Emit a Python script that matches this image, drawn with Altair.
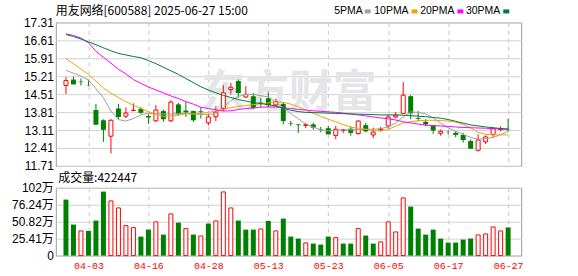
import json
import altair as alt
import pandas as pd

# ---------------- data ----------------
dates = ["03-31", "04-01", "04-02", "04-03", "04-07", "04-08", "04-09", "04-10", "04-11",
         "04-14", "04-15", "04-16", "04-17", "04-18", "04-21", "04-22", "04-23", "04-24",
         "04-25", "04-28", "04-29", "04-30", "05-06", "05-07", "05-08", "05-09", "05-12",
         "05-13", "05-14", "05-15", "05-16", "05-19", "05-20", "05-21", "05-22", "05-23",
         "05-26", "05-27", "05-28", "05-29", "05-30", "06-03", "06-04", "06-05", "06-06",
         "06-09", "06-10", "06-11", "06-12", "06-13", "06-16", "06-17", "06-18", "06-19",
         "06-20", "06-23", "06-24", "06-25", "06-26", "06-27"]

opens = [14.85, 15.08, 15.00, 14.84, 13.89, 13.49, 12.87, 13.95, 13.65, 13.87,
         13.94, 13.66, 13.47, 13.85, 13.47, 14.11, 13.87, 13.85, 13.84, 13.39,
         13.63, 13.95, 14.69, 15.02, 14.40, 14.43, 14.19, 14.35, 14.09, 14.13,
         13.38, 13.33, 13.29, 13.33, 13.15, 13.18, 12.90, 13.09, 13.16, 12.97,
         13.30, 12.92, 13.13, 13.27, 13.62, 13.76, 14.43, 13.57, 13.43, 13.30,
         12.98, 13.04, 13.00, 12.92, 12.68, 12.32, 12.65, 12.94, 13.13, 13.14]
highs = [15.17, 15.20, 15.12, 15.07, 14.13, 13.53, 13.53, 14.13, 13.99, 14.15,
         14.00, 13.72, 14.08, 13.91, 14.27, 14.17, 14.20, 13.87, 13.99, 13.74,
         14.04, 14.86, 14.95, 15.08, 14.82, 14.56, 14.37, 14.60, 14.33, 14.20,
         13.47, 13.34, 13.39, 13.39, 13.23, 13.27, 13.27, 13.16, 13.25, 13.49,
         13.39, 13.20, 13.23, 13.71, 13.81, 14.98, 14.47, 13.85, 13.53, 13.30,
         13.13, 13.09, 13.06, 13.00, 12.74, 12.94, 12.90, 13.20, 13.26, 13.55]
lows = [14.52, 14.89, 14.85, 14.82, 13.30, 12.65, 12.20, 13.53, 13.58, 13.86,
        13.74, 13.35, 13.43, 13.43, 13.43, 13.66, 13.62, 13.43, 13.56, 13.29,
        13.46, 13.85, 14.50, 14.37, 14.37, 13.93, 14.00, 14.00, 14.02, 13.33,
        13.27, 13.00, 13.18, 13.12, 13.02, 12.94, 12.75, 13.00, 12.89, 12.93,
        13.02, 12.79, 13.04, 13.17, 13.56, 13.76, 13.53, 13.46, 13.25, 12.96,
        12.89, 12.94, 12.83, 12.62, 12.38, 12.27, 12.57, 12.83, 13.06, 13.04]
closes = [15.04, 14.89, 14.98, 14.83, 13.32, 13.12, 13.49, 13.62, 13.77, 13.88,
          13.78, 13.60, 13.89, 13.53, 14.20, 13.72, 13.80, 13.49, 13.81, 13.62,
          13.81, 14.56, 14.78, 14.55, 14.50, 13.98, 14.17, 14.08, 14.22, 13.46,
          13.36, 13.30, 13.32, 13.20, 13.13, 12.94, 13.14, 13.11, 13.00, 13.46,
          13.06, 13.03, 13.15, 13.62, 13.69, 14.47, 13.76, 13.54, 13.33, 13.09,
          13.06, 13.03, 12.92, 12.72, 12.38, 12.72, 12.84, 13.16, 13.17, 13.13]

ma5 = [15.44, 15.33, 15.21, 15.06, 14.72, 14.37, 13.85, 13.52, 13.46, 13.56,
       13.70, 13.76, 13.75, 13.73, 13.73, 13.75, 13.76, 13.74, 13.72, 13.72,
       13.74, 14.00, 14.25, 14.42, 14.50, 14.50, 14.45, 14.40, 14.20, 13.98,
       13.75, 13.55, 13.35, 13.22, 13.12, 13.08, 13.10, 13.12, 13.12, 13.13,
       13.14, 13.14, 13.16, 13.23, 13.39, 13.62, 13.82, 13.80, 13.74, 13.58,
       13.38, 13.20, 13.06, 12.94, 12.82, 12.75, 12.78, 12.82, 12.93, 13.05]
ma10 = [15.90, 15.70, 15.49, 15.28, 15.02, 14.75, 14.55, 14.38, 14.22, 14.08,
        13.95, 13.82, 13.72, 13.64, 13.66, 13.70, 13.74, 13.74, 13.76, 13.80,
        13.85, 13.92, 13.98, 14.03, 14.07, 14.10, 14.13, 14.17, 14.21, 14.19,
        14.12, 14.02, 13.89, 13.76, 13.64, 13.53, 13.43, 13.32, 13.22, 13.18,
        13.14, 13.10, 13.08, 13.13, 13.27, 13.38, 13.44, 13.47, 13.49, 13.49,
        13.48, 13.46, 13.42, 13.33, 13.20, 13.02, 12.94, 12.92, 12.92, 12.92]
ma20 = [16.86, 16.80, 16.70, 16.52, 16.18, 15.95, 15.72, 15.48, 15.30, 15.08,
        14.93, 14.79, 14.67, 14.56, 14.44, 14.34, 14.22, 14.12, 14.00, 13.95,
        13.90, 13.85, 13.86, 13.91, 13.95, 13.97, 14.00, 14.01, 14.01, 13.98,
        13.95, 13.91, 13.89, 13.86, 13.84, 13.82, 13.80, 13.77, 13.73, 13.70,
        13.66, 13.62, 13.58, 13.55, 13.50, 13.43, 13.39, 13.34, 13.30, 13.28,
        13.27, 13.25, 13.23, 13.21, 13.20, 13.19, 13.18, 13.16, 13.15, 13.14]
ma30 = [16.84, 16.76, 16.66, 16.55, 16.44, 16.32, 16.20, 16.10, 16.04, 15.98,
        15.93, 15.82, 15.70, 15.56, 15.42, 15.28, 15.12, 14.96, 14.80, 14.67,
        14.56, 14.46, 14.38, 14.30, 14.24, 14.18, 14.14, 14.10, 14.05, 13.96,
        13.88, 13.83, 13.80, 13.79, 13.78, 13.77, 13.76, 13.75, 13.74, 13.73,
        13.72, 13.71, 13.70, 13.70, 13.70, 13.69, 13.67, 13.65, 13.63, 13.60,
        13.57, 13.52, 13.45, 13.38, 13.31, 13.27, 13.23, 13.20, 13.17, 13.15]

# volume in 万 (10k shares)
volumes = [84, 46.5, 37, 37, 52.5, 96, 82, 71.5, 45, 42,
           28.5, 39, 50.5, 31.5, 62.5, 49.5, 40.5, 31.5, 29.5, 48,
           52, 95.5, 71.5, 52.5, 39, 39, 40, 52, 37, 55.5,
           28.5, 25.5, 19, 18, 16.5, 28.5, 27, 18, 18, 40.5,
           30, 18, 20.5, 50.5, 35.5, 86.5, 73.5, 40.5, 31.5, 39,
           25.5, 19.5, 19.5, 24, 25.5, 31, 32.5, 43, 37, 42.2447]
# volume bar colour as seen: r = red hollow, g = green filled
vol_dir = list("ggrgggrrrrggrgrgrgrgrrrgggrgrgggrgggrggrggrrrrggggggggg" "rrrrg")

price_ticks = [11.71, 12.41, 13.11, 13.81, 14.51, 15.21, 15.91, 16.61, 17.31]
vol_ticks = [0, 25.41, 50.82, 76.24, 101.65]
vol_tick_labels = ["0", "25.41万", "50.82万", "76.24万", "102万"]
date_ticks = ["04-03", "04-16", "04-28", "05-13", "05-23", "06-05", "06-17", "06-27"]

title_text = "用友网络[600588] 2025-06-27 15:00"
vol_title = "成交量:422447"
legend_names = ["5PMA", "10PMA", "20PMA", "30PMA"]
watermark = "东方财富"

# ---------------- styles ----------------
RED = "#ff0000"
GREEN = "#008000"
MA_COLORS = ["#a0a0a0", "#f5a200", "#ff00ff", "#00793b"]
PW, PH, VH = 467, 144, 68
X_DOMAIN = [-0.69, 60.08]
CJK = "Noto Sans CJK SC"

n = len(dates)
df = pd.DataFrame({
    "i": list(range(n)), "date": dates, "open": opens, "high": highs, "low": lows,
    "close": closes, "ma5": ma5, "ma10": ma10, "ma20": ma20, "ma30": ma30,
    "vol": volumes, "vdir": vol_dir[:n],
})
df["cdir"] = ["up" if c >= o else "down" for o, c in zip(opens, closes)]

tick_idx = [dates.index(d) for d in date_ticks]
xscale = alt.Scale(domain=X_DOMAIN, nice=False, zero=False)


def xenc(labels=False):
    kw = dict(values=tick_idx, grid=True, gridDash=[4, 4], gridColor="#c6c6c6",
              gridWidth=1, ticks=False, domain=False, title=None, labels=labels)
    if labels:
        kw.update(labelExpr=json.dumps(dates) + "[datum.value]", labelColor=RED,
                  labelFont="Liberation Mono", labelFontSize=10, labelPadding=5,
                  labelOverlap=False, labelFlush=False, labelBound=False)
    return alt.X("i:Q", scale=xscale, axis=alt.Axis(**kw))


price_scale = alt.Scale(domain=[price_ticks[0], price_ticks[-1]], nice=False, zero=False)
price_axis = alt.Axis(values=price_ticks, format=".2f", grid=True, gridColor="#d2d2d2",
                      ticks=False, domain=False, title=None, labelFont="Liberation Sans",
                      labelFontSize=12, labelColor="#000000", labelPadding=2.5,
                      labelOverlap=False, labelFlush=False)


def yp(field):
    return alt.Y(field + ":Q", scale=price_scale, axis=price_axis)


vol_scale = alt.Scale(domain=[0, vol_ticks[-1]], nice=False, zero=True)
vol_axis = alt.Axis(values=vol_ticks, grid=True, gridColor="#d2d2d2", ticks=False,
                    domain=False, title=None, labelFont="Liberation Sans, " + CJK,
                    labelFontSize=12, labelColor="#000000", labelPadding=2.5,
                    labelOverlap=False, labelFlush=False,
                    labelExpr=json.dumps(vol_tick_labels) + "[indexof(" +
                    json.dumps(vol_ticks) + ", datum.value)]")

base = alt.Chart(df)
one = pd.DataFrame({"k": [0]})

# ---------------- price panel ----------------
layers = []
layers.append(
    alt.Chart(pd.DataFrame({"t": [watermark]})).mark_text(
        font=CJK, fontSize=44, fontWeight="bold", color="#e5e5e9", align="center",
        baseline="middle").encode(text="t:N", x=alt.value(234), y=alt.value(71.5)))
for d, col in (("up", RED), ("down", GREEN)):
    layers.append(base.transform_filter(alt.datum.cdir == d).mark_rule(
        color=col, strokeWidth=1).encode(x=xenc(), y=yp("low"), y2="high:Q"))
layers.append(base.transform_filter(alt.datum.cdir == "down").mark_bar(
    size=5, color=GREEN).encode(x=xenc(), y=yp("open"), y2="close:Q"))
layers.append(base.transform_filter(alt.datum.cdir == "up").mark_bar(
    size=4, fill="#ffffff", stroke=RED, strokeWidth=1).encode(
        x=xenc(), y=yp("open"), y2="close:Q"))
for f, col in zip(["ma5", "ma10", "ma20", "ma30"], MA_COLORS):
    layers.append(base.mark_line(color=col, strokeWidth=1).encode(x=xenc(), y=yp(f)))

layers.append(
    alt.Chart(pd.DataFrame({"t": [title_text]})).mark_text(
        font=CJK, fontSize=12, color="#000000", align="left", baseline="middle").encode(
            text="t:N", x=alt.value(0), y=alt.value(-11)))
legend_text_right = [308, 354, 400, 446]
legend_swatch_left = [310, 357, 403, 449]
for name, col, tx, sx in zip(legend_names, MA_COLORS, legend_text_right, legend_swatch_left):
    layers.append(alt.Chart(pd.DataFrame({"t": [name]})).mark_text(
        font="Liberation Sans", fontSize=10.5, color="#000000", align="right",
        baseline="middle").encode(text="t:N", x=alt.value(tx), y=alt.value(-11)))
    layers.append(alt.Chart(one).mark_rect(color=col).encode(
        x=alt.value(sx), x2=alt.value(sx + 6), y=alt.value(-13), y2=alt.value(-9)))
# invisible frame that fixes the page bounds (top-left and right edge)
layers.append(alt.Chart(one).mark_rule(opacity=0).encode(
    x=alt.value(-55), x2=alt.value(523), y=alt.value(-21)))

price = alt.layer(*layers).properties(width=PW, height=PH)

# ---------------- volume panel ----------------
vlayers = []
vlayers.append(base.transform_filter(alt.datum.vdir == "g").mark_bar(
    size=5, color=GREEN).encode(x=xenc(True), y=alt.Y("vol:Q", scale=vol_scale, axis=vol_axis)))
vlayers.append(base.transform_filter(alt.datum.vdir == "r").mark_bar(
    size=4, fill="#ffffff", stroke=RED, strokeWidth=1).encode(
        x=xenc(True), y=alt.Y("vol:Q", scale=vol_scale, axis=vol_axis)))
vlayers.append(
    alt.Chart(pd.DataFrame({"t": [vol_title]})).mark_text(
        font=CJK, fontSize=12, color="#000000", align="left", baseline="middle").encode(
            text="t:N", x=alt.value(2.5), y=alt.value(-9.5)))
vlayers.append(alt.Chart(one).mark_rule(opacity=0).encode(
    x=alt.value(-55), x2=alt.value(523), y=alt.value(89)))

volume = alt.layer(*vlayers).properties(width=PW, height=VH)

chart = alt.vconcat(price, volume, spacing=22, bounds="flush").properties(
    padding=0, background="#ffffff"
).configure_view(stroke="#9a9a9a", strokeWidth=1)

chart.save("out.html", embed_options={"renderer": "svg", "actions": False})
